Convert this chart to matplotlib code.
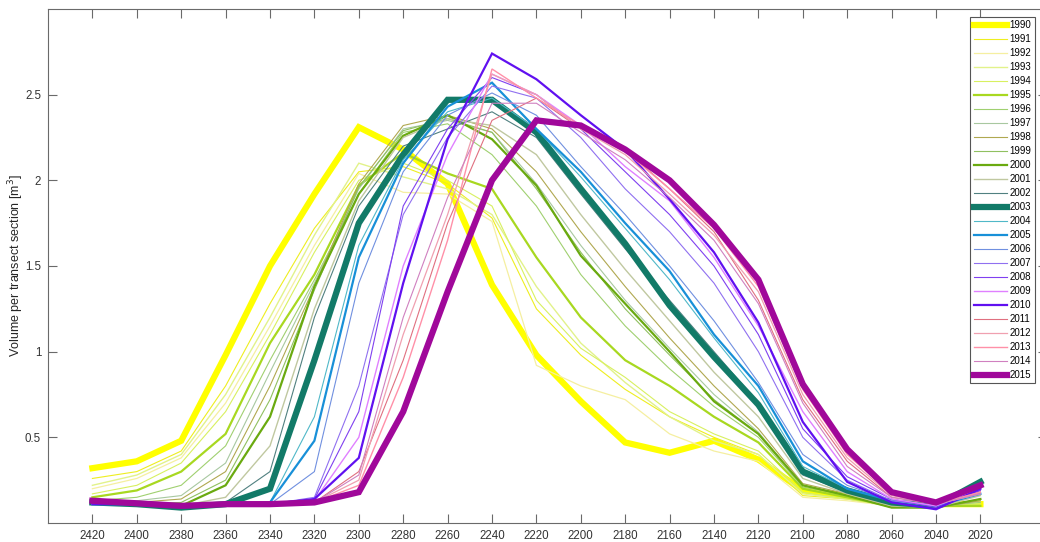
import matplotlib
matplotlib.use("Agg")
import matplotlib.pyplot as plt

positions = [2420, 2400, 2380, 2360, 2340, 2320, 2300, 2280, 2260, 2240, 2220,
             2200, 2180, 2160, 2140, 2120, 2100, 2080, 2060, 2040, 2020]
tick_labels = [str(p) for p in positions]
years = list(range(1990, 2016))

v1990 = [0.32,0.36,0.48,0.98,1.50,1.92,2.31,2.18,1.98,1.39,0.98,0.71,0.47,0.41,0.48,0.37,0.19,0.16,0.11,0.11,0.11]
v1991 = [0.26,0.30,0.42,0.80,1.28,1.72,2.05,2.08,1.98,1.78,1.25,0.98,0.78,0.62,0.50,0.40,0.16,0.14,0.10,0.10,0.11]
v1992 = [0.20,0.26,0.38,0.70,1.15,1.62,2.04,1.93,1.92,1.76,0.92,0.80,0.72,0.52,0.42,0.36,0.15,0.13,0.10,0.10,0.12]
v1993 = [0.22,0.28,0.40,0.75,1.20,1.68,2.10,2.02,1.95,1.80,1.38,1.05,0.82,0.62,0.48,0.40,0.17,0.14,0.10,0.10,0.12]
v1994 = [0.17,0.22,0.35,0.65,1.10,1.58,2.00,2.10,2.00,1.85,1.30,1.02,0.85,0.65,0.52,0.42,0.18,0.14,0.10,0.10,0.11]
v1995 = [0.15,0.19,0.30,0.52,1.05,1.45,1.97,2.16,2.04,1.95,1.55,1.20,0.95,0.80,0.62,0.47,0.20,0.15,0.10,0.10,0.10]
v1996 = [0.13,0.15,0.22,0.45,0.95,1.42,1.92,2.28,2.33,2.15,1.85,1.45,1.15,0.90,0.68,0.50,0.21,0.16,0.10,0.10,0.12]
v1997 = [0.12,0.13,0.16,0.35,0.88,1.40,1.95,2.30,2.35,2.28,1.98,1.62,1.30,1.02,0.75,0.53,0.22,0.16,0.10,0.09,0.13]
v1998 = [0.12,0.12,0.14,0.30,0.80,1.38,1.98,2.32,2.38,2.30,2.05,1.70,1.38,1.08,0.80,0.55,0.23,0.17,0.10,0.09,0.13]
v1999 = [0.12,0.11,0.12,0.25,0.72,1.36,1.96,2.29,2.36,2.28,1.95,1.58,1.25,0.98,0.72,0.52,0.22,0.16,0.09,0.09,0.14]
v2000 = [0.12,0.11,0.10,0.22,0.62,1.38,1.92,2.26,2.38,2.24,1.97,1.56,1.28,1.00,0.71,0.52,0.22,0.16,0.09,0.09,0.14]
v2001 = [0.12,0.11,0.10,0.15,0.45,1.25,1.88,2.25,2.36,2.32,2.15,1.80,1.48,1.18,0.88,0.62,0.26,0.17,0.10,0.09,0.16]
v2002 = [0.12,0.11,0.09,0.12,0.30,1.20,1.85,2.20,2.30,2.40,2.25,1.92,1.60,1.30,1.00,0.70,0.28,0.18,0.11,0.09,0.20]
v2003 = [0.12,0.11,0.09,0.11,0.20,0.95,1.75,2.15,2.47,2.47,2.28,1.95,1.63,1.27,0.97,0.69,0.30,0.19,0.12,0.10,0.24]
v2004 = [0.11,0.11,0.10,0.11,0.12,0.62,1.62,2.12,2.40,2.48,2.30,2.02,1.72,1.42,1.08,0.76,0.33,0.20,0.13,0.10,0.22]
v2005 = [0.11,0.11,0.10,0.11,0.12,0.48,1.55,2.10,2.43,2.57,2.30,2.05,1.75,1.47,1.10,0.80,0.36,0.20,0.13,0.10,0.17]
v2006 = [0.11,0.11,0.10,0.11,0.11,0.30,1.40,2.05,2.38,2.51,2.38,2.08,1.80,1.50,1.18,0.82,0.40,0.22,0.13,0.10,0.18]
v2007 = [0.11,0.11,0.10,0.11,0.11,0.15,0.80,1.80,2.25,2.55,2.48,2.25,1.95,1.70,1.40,1.00,0.50,0.25,0.13,0.10,0.19]
v2008 = [0.11,0.11,0.10,0.11,0.11,0.14,0.65,1.85,2.30,2.60,2.50,2.30,2.05,1.80,1.50,1.10,0.55,0.27,0.14,0.09,0.19]
v2009 = [0.11,0.11,0.10,0.11,0.11,0.13,0.50,1.50,2.15,2.62,2.50,2.32,2.08,1.88,1.55,1.15,0.65,0.30,0.14,0.10,0.20]
v2010 = [0.11,0.11,0.10,0.11,0.11,0.14,0.38,1.40,2.24,2.74,2.59,2.38,2.18,1.89,1.58,1.17,0.59,0.24,0.12,0.08,0.20]
v2011 = [0.12,0.11,0.10,0.11,0.11,0.12,0.30,0.95,1.75,2.35,2.48,2.30,2.18,1.95,1.70,1.30,0.72,0.36,0.15,0.11,0.18]
v2012 = [0.12,0.11,0.10,0.11,0.11,0.12,0.25,1.10,1.80,2.62,2.50,2.30,2.15,1.92,1.68,1.35,0.75,0.38,0.16,0.11,0.17]
v2013 = [0.12,0.11,0.10,0.11,0.11,0.12,0.22,0.85,1.65,2.65,2.48,2.32,2.17,1.95,1.72,1.38,0.78,0.40,0.17,0.11,0.18]
v2014 = [0.12,0.11,0.10,0.11,0.11,0.12,0.28,1.20,1.90,2.45,2.45,2.28,2.12,1.90,1.65,1.28,0.70,0.33,0.15,0.11,0.17]
v2015 = [0.13,0.115,0.10,0.11,0.11,0.12,0.18,0.65,1.35,2.00,2.35,2.32,2.18,2.00,1.74,1.42,0.81,0.43,0.18,0.12,0.22]

series = [v1990, v1991, v1992, v1993, v1994, v1995, v1996, v1997, v1998, v1999,
          v2000, v2001, v2002, v2003, v2004, v2005, v2006, v2007, v2008, v2009,
          v2010, v2011, v2012, v2013, v2014, v2015]

colors = ['#FFFF00', '#EEEE20', '#F5EFA0', '#E2F28A', '#D8F060', '#A8D820',
          '#A0D070', '#A8C8A0', '#B0A850', '#90C060', '#6AAA10', '#C0C8A0',
          '#508080', '#127A68', '#50B8C8', '#1890D8', '#7090E0', '#9070F0',
          '#8040F0', '#E080FF', '#6010F0', '#E07080', '#F0A0B0', '#FF90A8',
          '#D080C0', '#A0089A']
widths = [4.5, 0.8, 0.9, 1.0, 0.8, 1.6, 0.8, 0.8, 0.8, 0.8,
          1.6, 1.0, 0.8, 4.5, 0.8, 1.6, 0.8, 0.8, 0.8, 1.0,
          1.6, 0.8, 0.9, 1.0, 0.8, 4.5]

plt.rcParams['font.family'] = ['Liberation Sans', 'DejaVu Sans']

fig = plt.figure(figsize=(10.4, 5.42), dpi=100)
ax = fig.add_axes([48/1040, 1 - 523/542, (1047 - 48)/1040, (523 - 9)/542])

for yr, vals, c, w in zip(years, series, colors, widths):
    ax.plot(positions, vals, color=c, lw=w, label=str(yr), solid_joinstyle='miter')

ax.set_xlim(2440, 1990)
ax.set_ylim(0, 3)
ax.set_xticks(positions)
ax.set_xticklabels(tick_labels)
ax.set_yticks([0.5, 1, 1.5, 2, 2.5])
ax.set_yticklabels(['0.5', '1', '1.5', '2', '2.5'])
axc = '#6a6a6a'
for s in ax.spines.values():
    s.set_color(axc)
    s.set_linewidth(0.8)
ax.tick_params(direction='in', length=6.5, width=0.8, color=axc,
               top=True, right=True, labelsize=8.3, labelcolor='#333333', pad=5)
fig.text(16/1040, 1 - 266/542, 'Volume per transect section [m$^3$]', fontsize=9,
         color='#262626', rotation=90, ha='center', va='center')

leg = fig.legend(loc='upper right', bbox_to_anchor=(1035/1040, 1 - 17/542),
                 fontsize=7, handlelength=3.4, labelspacing=0.41, handletextpad=0.3,
                 borderpad=0.35, borderaxespad=0, fancybox=False, framealpha=1,
                 edgecolor='#555555')
leg.get_frame().set_linewidth(0.8)

fig.savefig('out.png', dpi=100)
